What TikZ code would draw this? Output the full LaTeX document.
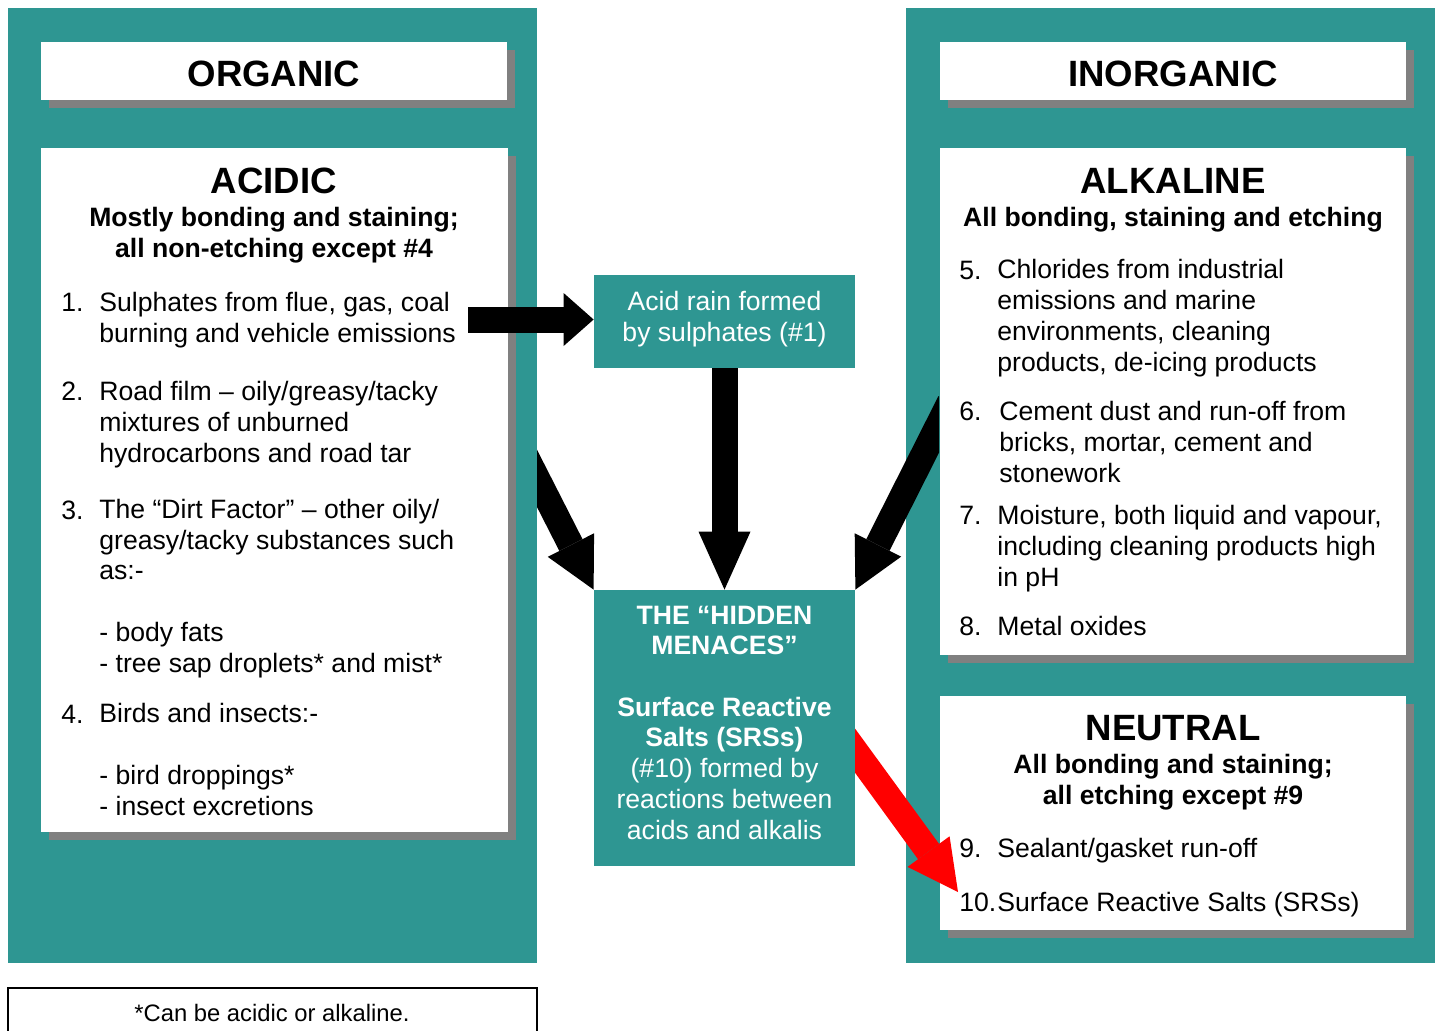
\documentclass[tikz,border=0pt]{standalone}
\usepackage{fontspec}
\setmainfont{Liberation Sans}
\usetikzlibrary{arrows.meta,fit,shadows}

\definecolor{panelteal}{RGB}{46,150,146}
\definecolor{shadowgray}{RGB}{128,128,128}
\newcommand{\bodysize}{\fontsize{13.3}{15.35}\selectfont}
\newcommand{\headsize}{\fontsize{18.3}{22}\selectfont\bfseries}

\begin{document}
\begin{tikzpicture}[x=0.5pt, y=-0.5pt,
    panel/.style={fill=panelteal, inner sep=0pt},
    card/.style={fill=white, inner sep=0pt,
      drop shadow={fill=shadowgray, opacity=1, shadow xshift=4pt, shadow yshift=-4pt}},
    txt/.style={inner sep=0pt, font=\bodysize, anchor=base west, align=left},
    head/.style={inner sep=0pt, font=\headsize, anchor=base},
    blockarrow/.style={line width=13pt, -{Triangle[width=26pt, length=25pt, line width=0pt]}}]
  \useasboundingbox (0,0) rectangle (1441,1030);

  % the two big panels
  \node[panel, fit={(8,8) (537,963)}] (organicpanel) {};
  \node[panel, fit={(906,8) (1435,963)}] (inorganicpanel) {};

  % organic side (multi-line texts sit on the baseline of their last line)
  \node[card, fit={(41,42) (507,100)}] (organicbox) {};
  \node[head] (organictitle) at (274,86) {ORGANIC};
  \node[card, fit={(41,148) (508,832)}] (acidicbox) {};
  \node[head] (acidictitle) at (274,193) {ACIDIC};
  \node[txt, anchor=base, align=center, font=\bodysize\bfseries] (acidicnote) at (274,257)
    {Mostly bonding and staining;\\all non-etching except \#4};
  \foreach \n/\y in {1/311, 2/400, 3/519, 4/723}
    \node[txt] (num\n) at (61,\y) {\n.};
  \node[txt] (item1) at (99,342) {Sulphates from flue, gas, coal\\burning and vehicle emissions};
  \node[txt] (item2) at (99,462) {Road film – oily/greasy/tacky\\mixtures of unburned\\hydrocarbons and road tar};
  \node[txt] (item3) at (99,672) {The “Dirt Factor” – other oily/\\greasy/tacky substances such\\as:-\\[15.35pt]- body fats\\- tree sap droplets* and mist*};
  \node[txt] (item4) at (99,815) {Birds and insects:-\\[15.35pt]- bird droppings*\\- insect excretions};

  % inorganic side
  \node[card, fit={(940,42) (1406,100)}] (inorganicbox) {};
  \node[head] (inorganictitle) at (1173,86) {INORGANIC};
  \node[card, fit={(940,148) (1406,655)}] (alkalinebox) {};
  \node[head] (alkalinetitle) at (1173,193) {ALKALINE};
  \node[txt, anchor=base, font=\bodysize\bfseries] (alkalinenote) at (1173,226)
    {All bonding, staining and etching};
  \foreach \n/\y in {5/279, 6/420, 7/524, 8/635}
    \node[txt] (num\n) at (959,\y) {\n.};
  \node[txt] (item5) at (997,371) {Chlorides from industrial\\emissions and marine\\environments, cleaning\\products, de-icing products};
  \node[txt] (item6) at (999,482) {Cement dust and run-off from\\bricks, mortar, cement and\\stonework};
  \node[txt] (item7) at (997,586) {Moisture, both liquid and vapour,\\including cleaning products high\\in pH};
  \node[txt] (item8) at (997,635) {Metal oxides};
  \node[card, fit={(940,696) (1406,930)}] (neutralbox) {};
  \node[head] (neutraltitle) at (1173,740) {NEUTRAL};
  \node[txt, anchor=base, align=center, font=\bodysize\bfseries] (neutralnote) at (1173,804)
    {All bonding and staining;\\all etching except \#9};
  \foreach \n/\y in {9/857, 10/911}
    \node[txt] (num\n) at (959,\y) {\n.};
  \node[txt] (item9) at (997,857) {Sealant/gasket run-off};
  \node[txt] (item10) at (997,911) {Surface Reactive Salts (SRSs)};

  % middle boxes
  \node[panel, fit={(594,275) (855,368)}] (acidrain) {};
  \node[txt, anchor=base, align=center, text=white] (acidraintext) at (724.5,341)
    {Acid rain formed\\by sulphates (\#1)};

  % arrows
  \coordinate (sulphtail) at (468,319.5);
  \draw[blockarrow, -{Triangle[width=26.5pt, length=15pt, line width=0pt]}]
    (sulphtail) -- (acidrain.west |- sulphtail);
  \node[panel, fit={(594,590) (855,866)}] (menace) {};
  \draw[blockarrow, -{Triangle[width=26pt, length=29pt, line width=0pt]}]
    (acidrain.south) -- (menace.north);
  \begin{scope}
    \clip (537,0) rectangle (1441,1030);
    \coordinate (organictail) at (520,445);
    \draw[blockarrow] (organictail) -- (menace.north west);
  \end{scope}
  \begin{scope}
    \clip (0,0) rectangle (939,1030);
    \coordinate (inorganictail) at (950,402);
    \draw[blockarrow] (inorganictail) -- (menace.north east);
  \end{scope}
  \begin{scope}
    \clip (855,0) rectangle (1441,1030);
    \coordinate (saltstail) at (840,730);
    \coordinate (saltstip) at (958,892);
    \draw[blockarrow, red] (saltstail) -- (saltstip);
  \end{scope}
  \node[txt, anchor=base, align=center, text=white] (menacetext) at (724.5,839)
    {\textbf{THE “HIDDEN}\\\textbf{MENACES”}\\[15.35pt]\textbf{Surface Reactive}\\\textbf{Salts (SRSs)}\\(\#10) formed by\\reactions between\\acids and alkalis};

  % footnote
  \node[draw, line width=0.8pt, inner sep=0pt, fit={(8,988) (537,1045)}] (notebox) {};
  \node[inner sep=0pt, anchor=base, font=\fontsize{11.9}{14}\selectfont] (notetext) at (272,1021)
    {*Can be acidic or alkaline.};
\end{tikzpicture}
\end{document}
